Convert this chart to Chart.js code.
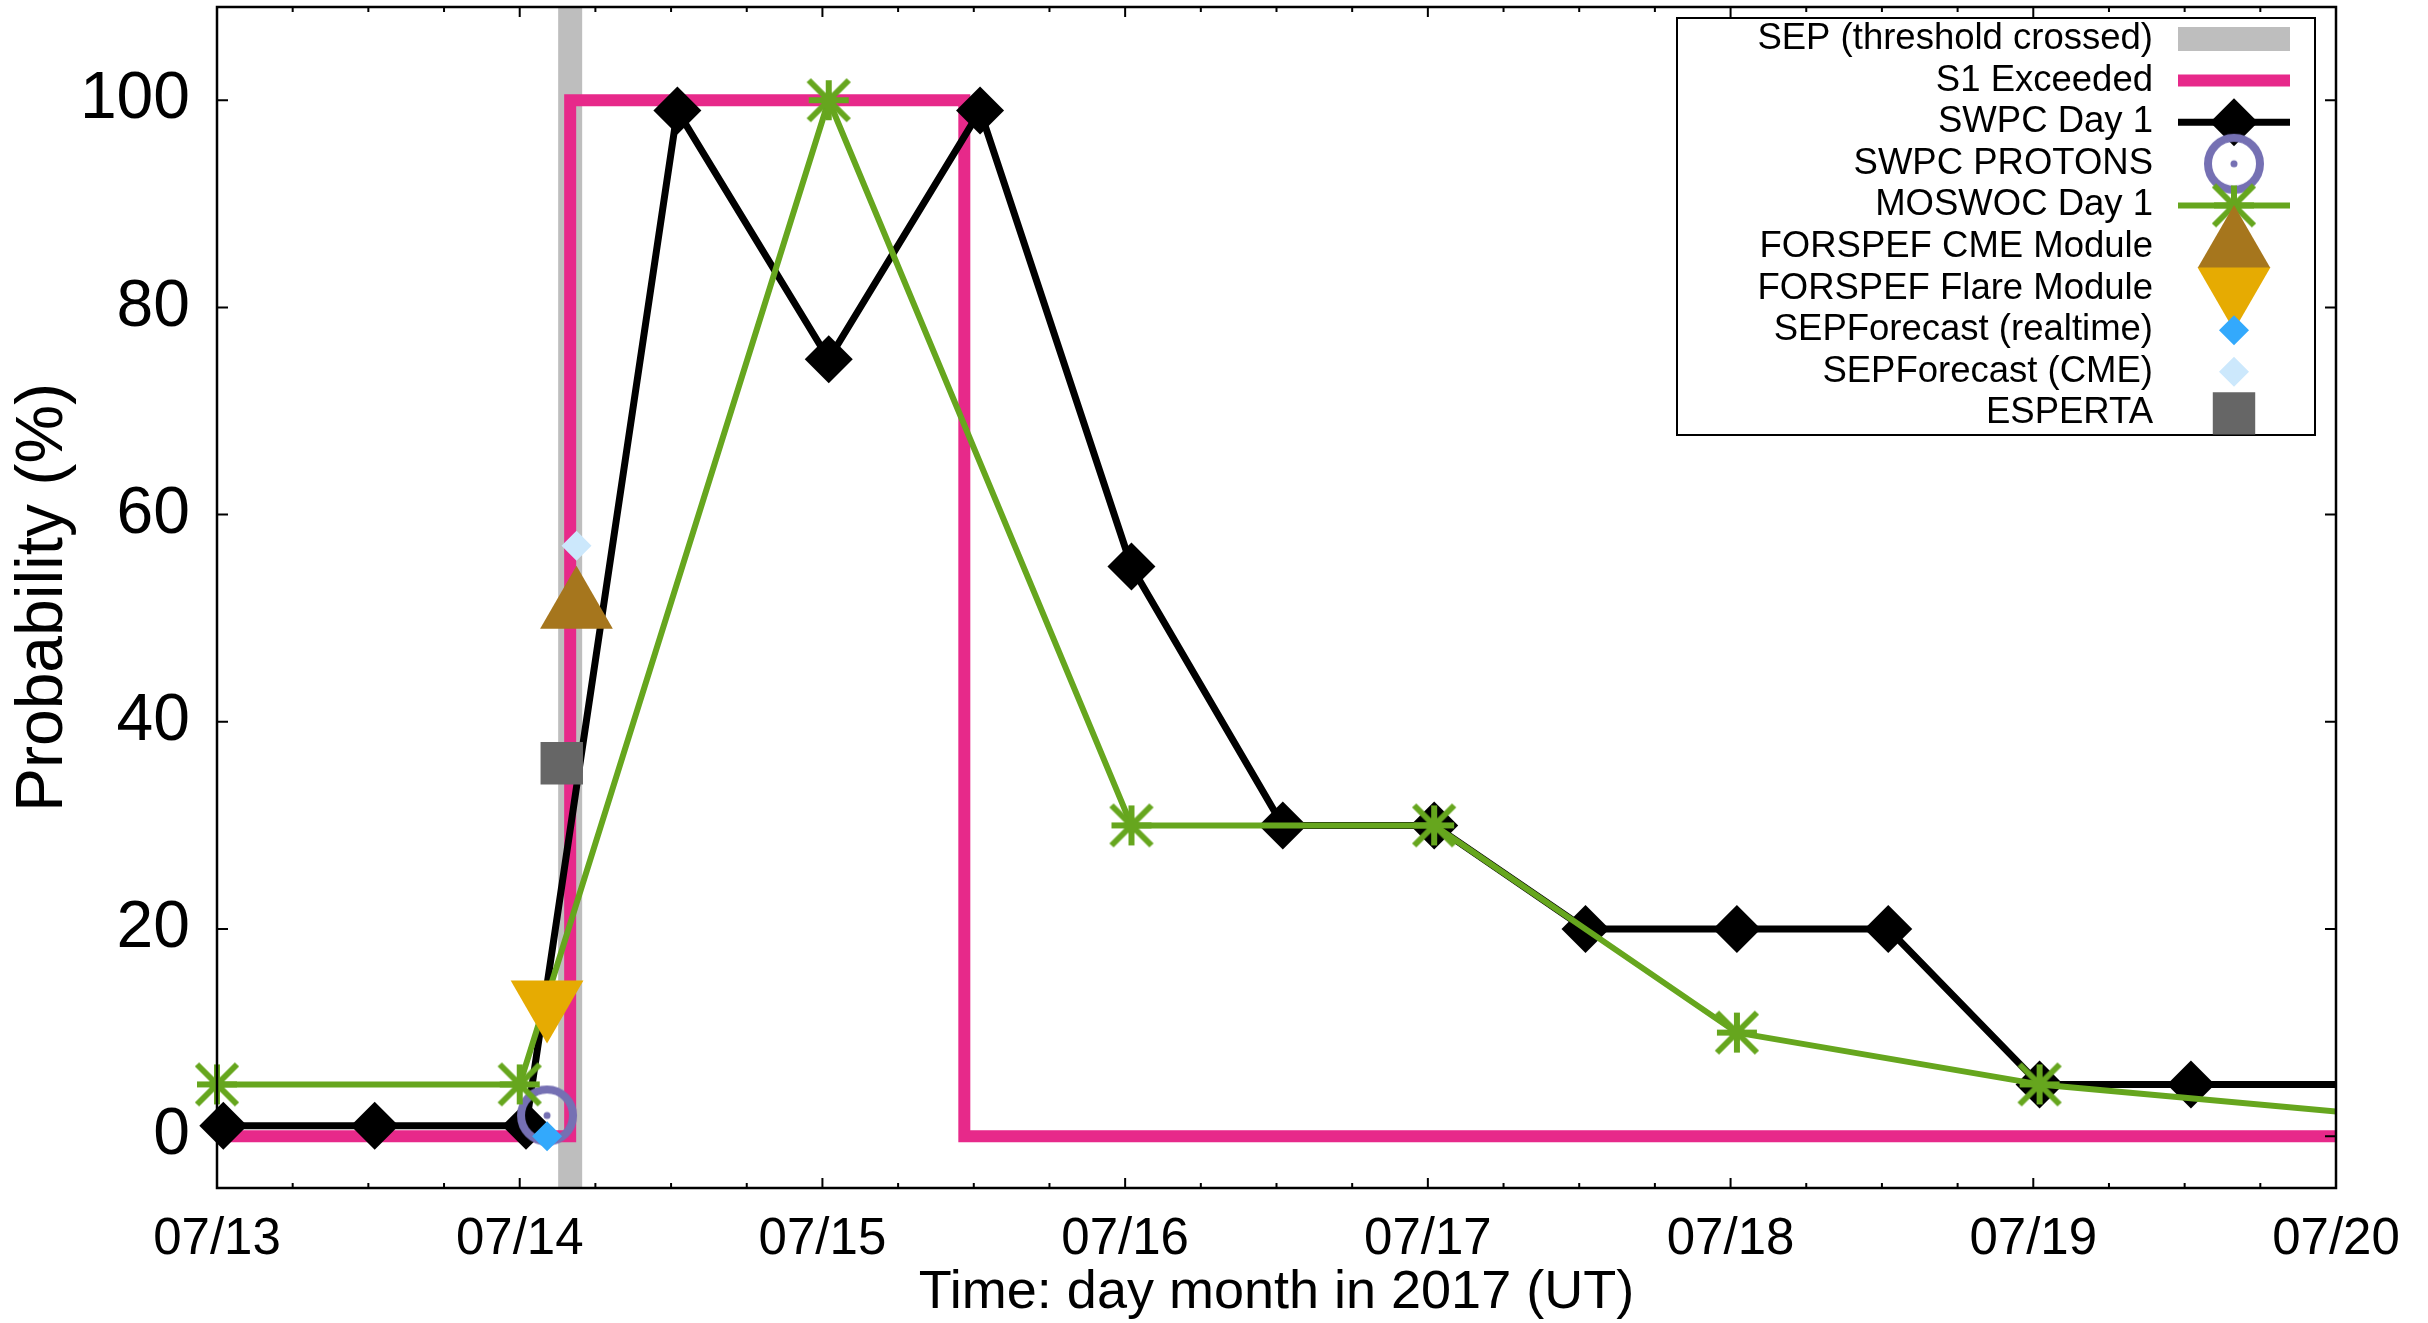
<!DOCTYPE html>
<html>
<head>
<meta charset="utf-8">
<script src="https://cdn.jsdelivr.net/npm/chart.js@4.4.1/dist/chart.umd.min.js"></script>
<style>
html, body { margin: 0; padding: 0; background: #fff; }
</style>
</head>
<body>
<canvas id="sep" width="2428" height="1323"></canvas>
<script>
//EJES
const dayLabels = ['07/13', '07/14', '07/15', '07/16', '07/17', '07/18', '07/19', '07/20'];
const yTicks = [0, 20, 40, 60, 80, 100];
const yMin = -5, yMax = 109;

//SERIES (fecha MM/DD HH:MM en UT, probabilidad en %)
const sepTime = ['07/14 04:00', '07/14 04:00'];
const sepProb = [yMin, yMax];

const s1Time = ['07/13 00:00', '07/14 04:00', '07/14 04:00', '07/15 11:15', '07/15 11:15', '07/20 00:00'];
const s1Prob = [0, 0, 100, 100, 0, 0];

const swpcTime = ['07/13 00:30', '07/13 12:30', '07/14 00:30', '07/14 12:30', '07/15 00:30', '07/15 12:30',
    '07/16 00:30', '07/16 12:30', '07/17 00:30', '07/17 12:30', '07/18 00:30', '07/18 12:30',
    '07/19 00:30', '07/19 12:30', '07/20 12:30'];
const swpcProb = [1, 1, 1, 99, 75, 99, 55, 30, 30, 20, 20, 20, 5, 5, 5];

const protonsTime = ['07/14 02:10'];
const protonsProb = [2];

const moswocTime = ['07/13 00:00', '07/14 00:00', '07/15 00:30', '07/16 00:30', '07/17 00:30', '07/18 00:30', '07/19 00:30', '07/20 12:30'];
const moswocProb = [5, 5, 100, 30, 30, 10, 5, 1];

const cmeTime = ['07/14 04:30'];
const cmeProb = [51];

const flareTime = ['07/14 02:10'];
const flareProb = [13];

const sepfRtTime = ['07/14 02:10'];
const sepfRtProb = [0];

const sepfCmeTime = ['07/14 04:30'];
const sepfCmeProb = [57];

const espertaTime = ['07/14 03:20'];
const espertaProb = [36];

const FONT = '"Liberation Sans", Arial, Helvetica, sans-serif';

//horas desde 07/13 00:00
const toHours = (s) => {
    const [d, t] = s.split(' ');
    const day = parseInt(d.split('/')[1]);
    const [hh, mm] = t.split(':').map(Number);
    return (day - 13) * 24 + hh + mm / 60;
}
const pts = (times, probs) => times.map((t, i) => ({x: toHours(t), y: probs[i]}));

//MARCADORES PROPIOS
function asterisk(s, lw, color) {
    const c = document.createElement('canvas');
    const n = Math.ceil(2 * s + lw + 4);
    c.width = n; c.height = n;
    const g = c.getContext('2d');
    g.translate(n / 2, n / 2);
    g.strokeStyle = color;
    g.lineWidth = lw;
    g.beginPath();
    g.moveTo(-s, 0); g.lineTo(s, 0);
    g.moveTo(0, -s); g.lineTo(0, s);
    g.moveTo(-s, -s); g.lineTo(s, s);
    g.moveTo(-s, s); g.lineTo(s, -s);
    g.stroke();
    return c;
}
function ring(r, lw, color) {
    const c = document.createElement('canvas');
    const n = Math.ceil(2 * r + lw + 4);
    c.width = n; c.height = n;
    const g = c.getContext('2d');
    g.translate(n / 2, n / 2);
    g.strokeStyle = color;
    g.fillStyle = color;
    g.lineWidth = lw;
    g.beginPath();
    g.arc(0, 0, r, 0, Math.PI * 2);
    g.stroke();
    g.beginPath();
    g.arc(0, 0, 3.5, 0, Math.PI * 2);
    g.fill();
    return c;
}

const datasets = [
    {label: 'SEP (threshold crossed)', data: pts(sepTime, sepProb), borderColor: '#bebebe', borderWidth: 24,
        pointRadius: 0, borderCapStyle: 'butt'},
    {label: 'S1 Exceeded', data: pts(s1Time, s1Prob), borderColor: '#e7298a', borderWidth: 12,
        pointRadius: 0, borderJoinStyle: 'miter', borderCapStyle: 'butt'},
    {label: 'SWPC Day 1', data: pts(swpcTime, swpcProb), borderColor: '#000000', borderWidth: 7,
        pointStyle: 'rectRot', pointRadius: 24, pointBackgroundColor: '#000000', pointBorderWidth: 0,
        borderJoinStyle: 'round'},
    {label: 'SWPC PROTONS', data: pts(protonsTime, protonsProb), showLine: false,
        pointStyle: ring(26, 8, '#7570b3'), pointRadius: 26, pointBackgroundColor: '#7570b3', pointBorderWidth: 0},
    {label: 'MOSWOC Day 1', data: pts(moswocTime, moswocProb), borderColor: '#66a61e', borderWidth: 6,
        pointStyle: asterisk(20, 6, '#66a61e'), pointRadius: 22, pointBackgroundColor: '#66a61e', pointBorderWidth: 0,
        borderJoinStyle: 'round'},
    {label: 'FORSPEF CME Module', data: pts(cmeTime, cmeProb), showLine: false,
        pointStyle: 'triangle', pointRadius: 42, pointBackgroundColor: '#a6761d', pointBorderWidth: 0},
    {label: 'FORSPEF Flare Module', data: pts(flareTime, flareProb), showLine: false,
        pointStyle: 'triangle', pointRotation: 180, pointRadius: 42, pointBackgroundColor: '#e6ab02', pointBorderWidth: 0},
    {label: 'SEPForecast (realtime)', data: pts(sepfRtTime, sepfRtProb), showLine: false,
        pointStyle: 'rectRot', pointRadius: 15, pointBackgroundColor: '#33a9fc', pointBorderWidth: 0},
    {label: 'SEPForecast (CME)', data: pts(sepfCmeTime, sepfCmeProb), showLine: false,
        pointStyle: 'rectRot', pointRadius: 15, pointBackgroundColor: '#cce8fc', pointBorderWidth: 0},
    {label: 'ESPERTA', data: pts(espertaTime, espertaProb), showLine: false,
        pointStyle: 'rect', pointRadius: 30, pointBackgroundColor: '#666666', pointBorderWidth: 0},
];
//el primero abajo, el ultimo arriba
datasets.forEach((d, i) => {
    d.order = datasets.length - i;
    d.clip = {left: false, top: false, right: 0, bottom: false};
    d.tension = 0;
});

//MARCO, TICKS Y LEYENDA
const framePlugin = {
    id: 'frame',
    afterDatasetsDraw(chart) {
        const {ctx, chartArea: a, scales: {x, y}} = chart;
        ctx.save();
        ctx.strokeStyle = '#000';
        ctx.lineWidth = 2.5;
        ctx.strokeRect(a.left, a.top, a.right - a.left, a.bottom - a.top);
        ctx.lineWidth = 2;
        ctx.beginPath();
        for (let h = 0; h <= 168; h += 6) {
            const px = x.getPixelForValue(h);
            const len = h % 24 === 0 ? 10 : 5;
            ctx.moveTo(px, a.bottom); ctx.lineTo(px, a.bottom - len);
            ctx.moveTo(px, a.top); ctx.lineTo(px, a.top + len);
        }
        yTicks.forEach(v => {
            const py = y.getPixelForValue(v);
            ctx.moveTo(a.left, py); ctx.lineTo(a.left + 11, py);
            ctx.moveTo(a.right, py); ctx.lineTo(a.right - 11, py);
        });
        ctx.stroke();
        ctx.restore();
    },
    afterDraw(chart) {
        const ctx = chart.ctx;
        const x0 = 1677, y0 = 18, x1 = 2315, y1 = 435;
        ctx.save();
        ctx.strokeStyle = '#000';
        ctx.lineWidth = 2;
        ctx.strokeRect(x0, y0, x1 - x0, y1 - y0);
        ctx.font = '36.5px ' + FONT;
        ctx.textAlign = 'right';
        ctx.textBaseline = 'middle';
        chart.data.datasets.forEach((ds, i) => {
            const ly = 39 + i * 41.6;
            ctx.fillStyle = '#000';
            ctx.fillText(ds.label, 2153, ly);
            if (ds.showLine !== false) {
                ctx.strokeStyle = ds.borderColor;
                ctx.lineWidth = ds.borderWidth;
                ctx.lineCap = 'butt';
                ctx.beginPath();
                ctx.moveTo(2178, ly);
                ctx.lineTo(2290, ly);
                ctx.stroke();
            }
            if (ds.pointRadius > 0) {
                ctx.fillStyle = ds.pointBackgroundColor;
                Chart.helpers.drawPoint(ctx, {pointStyle: ds.pointStyle, radius: ds.pointRadius,
                    rotation: ds.pointRotation || 0, borderWidth: 0}, 2234, ly);
            }
        });
        ctx.restore();
    }
};

const chartSEP = new Chart(document.getElementById('sep').getContext('2d'), {
    type: 'line',
    data: {datasets: datasets},
    plugins: [framePlugin],
    options: {
        responsive: false,
        animation: false,
        devicePixelRatio: 1,
        layout: {autoPadding: false, padding: {top: 7, right: 92, left: 0, bottom: 0}},
        plugins: {
            legend: {display: false},
            tooltip: {enabled: false},
        },
        scales: {
            x: {
                type: 'linear',
                min: 0,
                max: 168,
                afterBuildTicks: s => { s.ticks = dayLabels.map((l, i) => ({value: i * 24})); },
                afterFit: s => { s.height = 135; s.paddingLeft = 0; s.paddingRight = 0; },
                grid: {display: false, drawTicks: false},
                border: {display: false},
                ticks: {
                    autoSkip: false,
                    maxRotation: 0,
                    padding: 21,
                    color: '#000',
                    font: {family: FONT, size: 51},
                    callback: v => dayLabels[Math.round(v / 24)],
                },
                title: {
                    display: true,
                    text: 'Time: day month in 2017 (UT)',
                    color: '#000',
                    font: {family: FONT, size: 54, lineHeight: 1},
                    padding: {top: 0, bottom: 3},
                },
            },
            y: {
                type: 'linear',
                min: yMin,
                max: yMax,
                afterBuildTicks: s => { s.ticks = yTicks.map(v => ({value: v})); },
                afterFit: s => { s.width = 217; s.paddingTop = 0; s.paddingBottom = 0; },
                grid: {display: false, drawTicks: false},
                border: {display: false},
                ticks: {
                    padding: 27,
                    color: '#000',
                    font: {family: FONT, size: 66},
                },
                title: {
                    display: true,
                    text: 'Probability (%)',
                    color: '#000',
                    font: {family: FONT, size: 66, lineHeight: 1},
                    padding: {top: 11, bottom: 0},
                },
            },
        },
    },
});
</script>
</body>
</html>
